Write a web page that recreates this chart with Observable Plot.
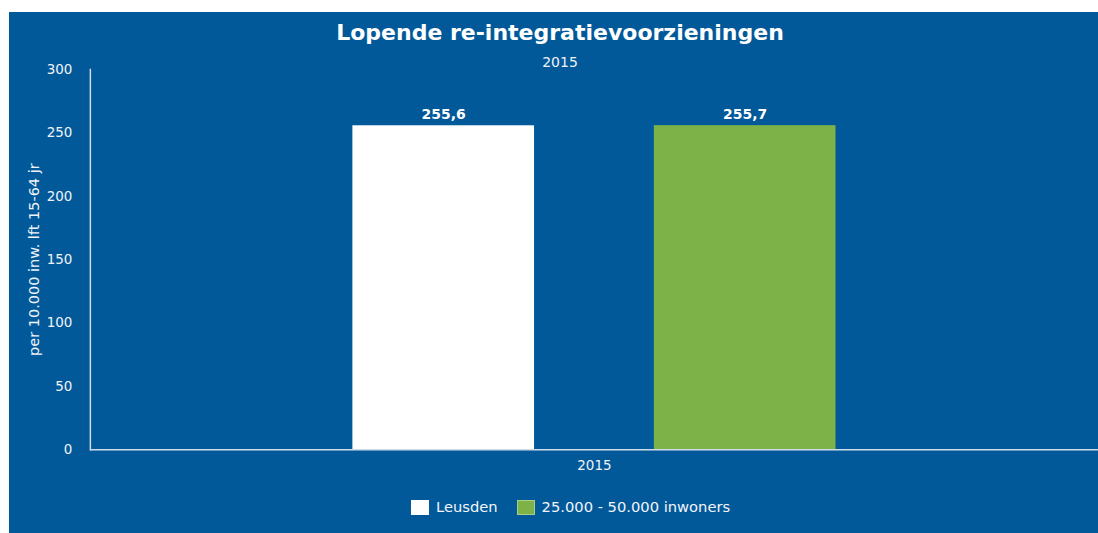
<!DOCTYPE html>
<html>
<head>
<meta charset="utf-8">
<script src="https://cdn.jsdelivr.net/npm/d3@7"></script>
<script src="https://cdn.jsdelivr.net/npm/@observablehq/plot@0.6"></script>
<style>
  html, body { margin: 0; padding: 0; background: #ffffff; }
  body { width: 1098px; height: 533px; position: relative; overflow: hidden; font-family: "DejaVu Sans", sans-serif; }
  #panel { position: absolute; left: 9px; top: 12px; width: 1089px; height: 521px; background: #02599A; color: #fff; overflow: hidden; }
  #title { position: absolute; left: 13px; right: 0; top: 9px; text-align: center; font-weight: bold; font-size: 22px; line-height: 24px; }
  #subtitle { position: absolute; left: 13px; right: 0; top: 42px; text-align: center; font-size: 14px; line-height: 16px; color: #eef2f7; }
  #chart { position: absolute; left: 0; top: 48px; }
  #legend { position: absolute; left: 402px; top: 486px; display: flex; align-items: center; font-size: 14.7px; line-height: 18px; color: #f2f5f9; }
  .item { display: flex; align-items: center; margin-right: 19px; }
  .sw { width: 18px; height: 15px; margin-right: 7px; box-sizing: border-box; border: 1px solid rgba(255,255,255,0.35); }
</style>
</head>
<body>
<div id="panel">
  <div id="title"></div>
  <div id="subtitle"></div>
  <div id="chart"></div>
  <div id="legend"></div>
</div>
<script>
const chartTitle = "Lopende re-integratievoorzieningen";
const chartSubtitle = "2015";
const yLabel = "per 10.000 inw. lft 15-64 jr";
const years = ["2015"];
const series = ["Leusden", "25.000 - 50.000 inwoners"];
const values = [255.6, 255.7];
const colors = ["#ffffff", "#7DB249"];
const yTicks = [0, 50, 100, 150, 200, 250, 300];

const data = series.map((s, i) => ({ year: years[0], series: s, value: values[i] }));
const fmt = v => v.toFixed(1).replace(".", ",");

document.getElementById("title").textContent = chartTitle;
document.getElementById("subtitle").textContent = chartSubtitle;

const axisColor = "#cfdbe8";

const plot = Plot.plot({
  width: 1091,
  height: 430,
  marginTop: 9,
  marginBottom: 40,
  marginLeft: 81,
  marginRight: 0,
  style: { background: "transparent", color: "#f0f4f8", fontFamily: "DejaVu Sans, sans-serif", fontSize: "13px", overflow: "visible" },
  fx: { domain: years, padding: 0, label: null, round: false },
  x: { domain: series, paddingInner: 0.3974, paddingOuter: 0.8709, axis: null, round: false },
  y: { domain: [0, 300], label: null },
  color: { domain: series, range: colors },
  marks: [
    Plot.axisY({ ticks: yTicks, tickSize: 0, tickPadding: 18, label: null, fontSize: 13.5 }),
    Plot.axisFx({ anchor: "bottom", tickSize: 0, tickPadding: 11, label: null, fontSize: 13.5, tickFormat: d => String(d) }),
    Plot.barY(data, { fx: "year", x: "series", y: "value", fill: "series" }),
    Plot.text(data, { fx: "year", x: "series", y: "value", text: d => fmt(d.value), lineAnchor: "bottom", dy: -7, fontWeight: "bold", fontSize: 14, fill: "#ffffff" }),
    Plot.frame({ anchor: "left", stroke: axisColor, strokeWidth: 1.5, strokeOpacity: 1 }),
    Plot.ruleY([0], { stroke: axisColor, strokeWidth: 1.5 }),
    Plot.text([yLabel], { frameAnchor: "left", textAnchor: "middle", rotate: -90, dx: -56, fontSize: 14.5, fill: "#f0f4f8" })
  ]
});
document.getElementById("chart").appendChild(plot);

const legend = document.getElementById("legend");
series.forEach((s, i) => {
  const it = document.createElement("div");
  it.className = "item";
  const sw = document.createElement("span");
  sw.className = "sw";
  sw.style.background = colors[i];
  const tx = document.createElement("span");
  tx.textContent = s;
  it.appendChild(sw);
  it.appendChild(tx);
  legend.appendChild(it);
});
</script>
</body>
</html>
